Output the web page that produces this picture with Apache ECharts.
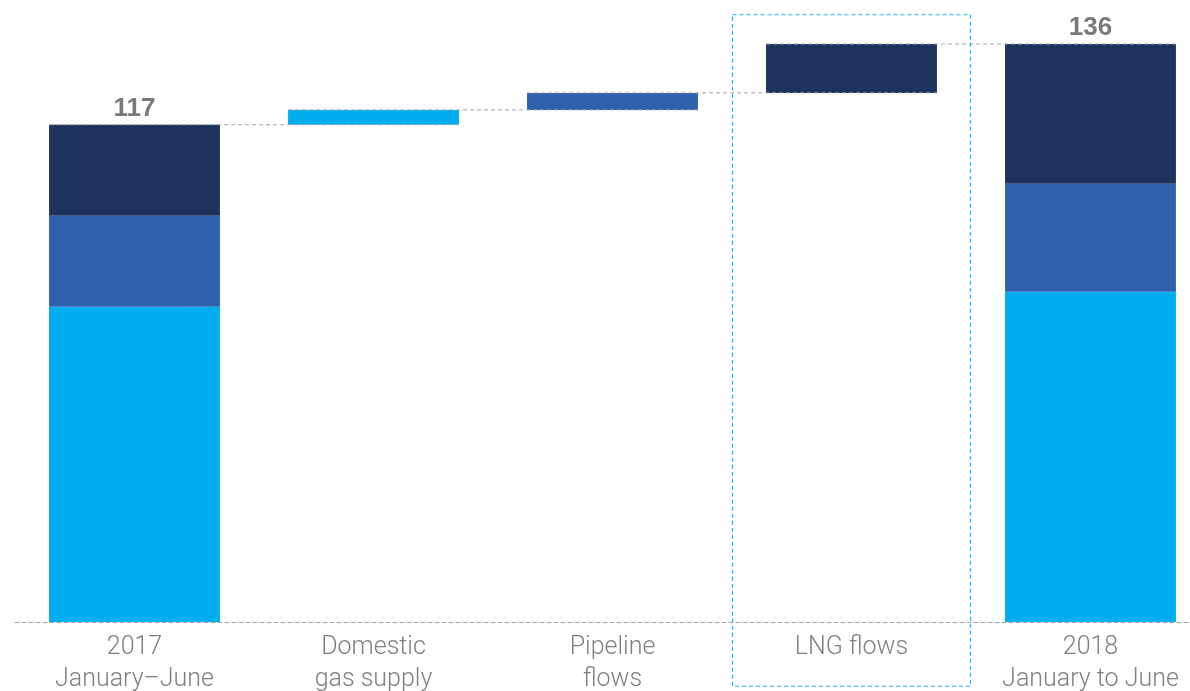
<!DOCTYPE html>
<html>
<head>
<meta charset="utf-8">
<script src="https://cdn.jsdelivr.net/npm/echarts@6/dist/echarts.min.js"></script>
<style>
  html, body { margin: 0; padding: 0; background: #fff; }
  #chart { width: 1190px; height: 691px; }
</style>
</head>
<body>
<div id="chart"></div>
<script>
// Gas supply bridge, January–June 2017 vs 2018
const categories = ['2017\nJanuary–June', 'Domestic\ngas supply', 'Pipeline\nflows', 'LNG flows', '2018\nJanuary to June'];

// 2017 components: domestic supply, pipeline flows, LNG flows
const start2017 = [74.2, 21.4, 21.4];
// Changes between the two periods (domestic, pipeline, LNG)
const changes = [3.5, 4.0, 11.5];
// 2018 components: domestic supply, pipeline flows, LNG flows
const end2018 = [77.7, 25.4, 32.9];
// Totals shown above the end bars
const totals = [117, 136];

const colors = { domestic: '#00aeef', pipeline: '#2e61ad', lng: '#1d335e' };

// Invisible offsets for the floating bars
const total2017 = start2017.reduce((a, b) => a + b, 0);
const bases = [];
let running = total2017;
changes.forEach(c => { bases.push(running); running += c; });

const baseData   = [0, bases[0], bases[1], bases[2], 0];
const domestic   = [start2017[0], changes[0], '-', '-', end2018[0]];
const pipeline   = [start2017[1], '-', changes[1], '-', end2018[1]];
const lng        = [start2017[2], '-', '-', changes[2], end2018[2]];

// Connector levels: from the top of each bar across to the next one
const connectors = [[0, total2017]];
running = total2017;
changes.forEach((c, i) => { running += c; connectors.push([i + 1, running]); });

const BAR_RATIO = 0.715;

const chart = echarts.init(document.getElementById('chart'));
chart.setOption({
  animation: false,
  grid: { left: 15, top: 27, width: 1195, height: 595, outerBoundsMode: 'none', containLabel: false },
  xAxis: {
    type: 'category',
    data: categories,
    z: 5,
    axisLine: { lineStyle: { color: '#a6a6a6', type: [4, 3], width: 1 } },
    axisTick: { show: false },
    axisLabel: {
      color: '#808080', fontSize: 25, fontFamily: 'Roboto', fontWeight: 300,
      lineHeight: 32, margin: 10, interval: 0
    }
  },
  yAxis: { type: 'value', min: 0, max: 140, show: false, splitLine: { show: false } },
  series: [
    { type: 'bar', stack: 's', data: baseData, barWidth: '71.5%',
      itemStyle: { color: 'transparent' }, silent: true },
    { type: 'bar', stack: 's', data: domestic, itemStyle: { color: colors.domestic } },
    { type: 'bar', stack: 's', data: pipeline, itemStyle: { color: colors.pipeline } },
    { type: 'bar', stack: 's', data: lng, itemStyle: { color: colors.lng },
      label: {
        show: true, position: 'top', distance: 3,
        color: '#7a7a7a', fontSize: 26, fontWeight: 'bold', fontFamily: 'Liberation Sans',
        formatter: p => p.dataIndex === 0 ? String(totals[0]) : (p.dataIndex === 4 ? String(totals[1]) : '')
      }
    },
    { // dashed connectors between consecutive bars
      type: 'custom', z: 6, clip: false, silent: true,
      data: connectors,
      renderItem: (params, api) => {
        const i = api.value(0), v = api.value(1);
        const bw = api.size([1, 0])[0] * BAR_RATIO;
        const a = api.coord([i, v]);
        const b = api.coord([i + 1, v]);
        return {
          type: 'line',
          shape: { x1: a[0] - bw / 2, y1: a[1], x2: b[0] + bw / 2, y2: b[1] },
          style: { stroke: '#a6a6a6', lineWidth: 1, lineDash: [4, 3] }
        };
      }
    },
    { // highlight frame around the LNG category
      type: 'custom', z: 7, clip: false, silent: true,
      data: [[3, 143, -15]],
      renderItem: (params, api) => {
        const bw = api.size([1, 0])[0];
        const top = api.coord([api.value(0), api.value(1)]);
        const bot = api.coord([api.value(0), api.value(2)]);
        return {
          type: 'rect',
          shape: { x: top[0] - bw / 2 + 0.5, y: top[1] + 0.5, width: bw - 1, height: bot[1] - top[1] },
          style: { fill: 'none', stroke: '#19b6ee', lineWidth: 1.2, lineDash: [4, 3] }
        };
      }
    }
  ]
});
</script>
</body>
</html>
